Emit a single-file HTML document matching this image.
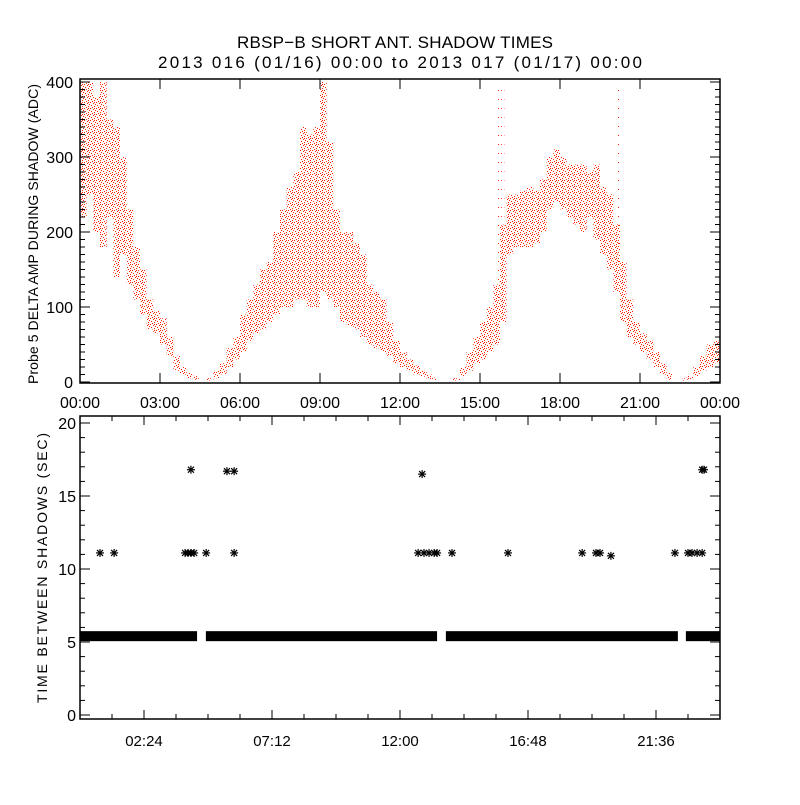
<!DOCTYPE html>
<html><head><meta charset="utf-8"><style>
html,body{margin:0;padding:0;background:#fff}
svg text{font-family:"Liberation Sans",sans-serif;fill:#000}
</style></head><body>
<svg id="chart" width="800" height="800" xmlns="http://www.w3.org/2000/svg">
<defs>
<pattern id="dots" patternUnits="userSpaceOnUse" width="6" height="6">
<rect x="0" y="0" width="1" height="1" fill="#ff2000"/>
<rect x="3" y="1" width="1" height="1" fill="#ff2000"/>
<rect x="1" y="3" width="1" height="1" fill="#ff2000"/>
<rect x="4" y="4" width="1" height="1" fill="#ff2000"/>
<rect x="2" y="5" width="1" height="1" fill="#ff2000"/>
<rect x="5" y="2" width="1" height="1" fill="#ff2000"/>
<rect x="4" y="0" width="1" height="1" fill="#ff2000"/>
</pattern>
<pattern id="sparse" patternUnits="userSpaceOnUse" width="3" height="9">
<rect x="0" y="0" width="1" height="1" fill="#ff2000"/>
</pattern>
</defs>
<rect width="800" height="800" fill="#fff"/>
<text x="237" y="48" font-size="17" textLength="316" lengthAdjust="spacing">RBSP−B SHORT ANT. SHADOW TIMES</text>
<text x="158" y="68" font-size="17" textLength="484" lengthAdjust="spacing">2013 016 (01/16) 00:00 to 2013 017 (01/17) 00:00</text>
<g id="topPlot"></g>
<g id="botPlot"></g>
<text transform="translate(38,384) rotate(-90)" font-size="14" textLength="300" lengthAdjust="spacing">Probe 5 DELTA AMP DURING SHADOW (ADC)</text>
<text transform="translate(47,703) rotate(-90)" font-size="14" textLength="270" lengthAdjust="spacing">TIME BETWEEN SHADOWS (SEC)</text>
</svg>
<script>
// ---- top chart data (hours, ADC) ----
const binT = [0,0.25,0.5,0.75,1.0,1.25,1.5,1.75,2.0,2.25,2.5,2.75,3.0,3.25,3.5,3.75,4.0,4.25,
 4.75,5.0,5.25,5.5,5.75,6.0,6.25,6.5,6.75,7.0,7.25,7.5,7.75,8.0,8.25,8.5,8.75,9.0,9.25,9.5,9.75,10.0,10.25,10.5,10.75,11.0,11.25,11.5,11.75,12.0,12.25,12.5,12.75,13.0,13.2,
 13.9,14.25,14.5,14.75,15.0,15.25,15.5,15.75,16.0,16.25,16.5,16.75,17.0,17.25,17.5,17.75,18.0,18.25,18.5,18.75,19.0,19.25,19.5,19.75,20.0,20.25,20.5,20.75,21.0,21.25,21.5,21.75,22.0,
 22.6,22.75,23.0,23.25,23.5,23.75];
const binLo = [220,250,200,180,220,140,170,130,110,90,70,65,50,35,15,10,5,3,
 2,5,10,20,30,40,55,65,70,80,90,100,100,110,110,100,100,120,110,100,80,75,70,60,50,45,40,35,25,20,15,10,7,4,2,
 2,8,15,25,30,40,50,80,170,180,180,180,185,200,230,240,230,220,210,200,220,190,170,150,120,80,60,50,40,30,20,10,3,
 2,3,8,15,20,25];
const binHi = [400,400,380,400,350,340,300,230,180,150,110,95,85,60,35,20,12,8,
 5,15,25,45,60,90,110,130,150,160,200,230,260,280,340,330,340,400,320,230,200,200,185,170,130,120,110,80,55,40,30,22,15,10,6,
 5,20,40,60,80,100,130,210,250,250,255,260,255,270,300,310,300,290,290,290,280,290,260,250,210,160,110,80,65,55,40,25,12,
 5,8,20,35,50,55];
const binW = [0.25,0.25,0.25,0.25,0.25,0.25,0.25,0.25,0.25,0.25,0.25,0.25,0.25,0.25,0.25,0.25,0.25,0.2,
 0.25,0.25,0.25,0.25,0.25,0.25,0.25,0.25,0.25,0.25,0.25,0.25,0.25,0.25,0.25,0.25,0.25,0.25,0.25,0.25,0.25,0.25,0.25,0.25,0.25,0.25,0.25,0.25,0.25,0.25,0.25,0.25,0.25,0.2,0.15,
 0.35,0.25,0.25,0.25,0.25,0.25,0.25,0.25,0.25,0.25,0.25,0.25,0.25,0.25,0.25,0.25,0.25,0.25,0.25,0.25,0.25,0.25,0.25,0.25,0.25,0.25,0.25,0.25,0.25,0.25,0.25,0.25,0.2,
 0.15,0.25,0.25,0.25,0.25,0.25];
const spikeT = [15.6,15.8,20.1];
const spikeLo = [100,200,150];
const spikeHi = [400,400,400];
const topXTicks = ["00:00","03:00","06:00","09:00","12:00","15:00","18:00","21:00","00:00"];
const topYTicks = [0,100,200,300,400];

// ---- bottom chart data (hours, seconds) ----
const bandStart = [0, 4.72, 13.72, 22.72];
const bandEnd = [4.39, 13.39, 22.42, 24];
const bandVal = [5.4, 5.4, 5.4, 5.4];
const starT = [0.75,1.28,3.94,4.05,4.16,4.28,4.73,5.78,12.68,12.9,13.09,13.28,13.39,13.95,16.05,18.83,19.35,19.5,19.91,22.31,22.8,22.95,23.14,23.33,
 4.16,5.51,5.78,12.83,23.33,23.4];
const starV = [11.1,11.1,11.1,11.1,11.1,11.1,11.1,11.1,11.1,11.1,11.1,11.1,11.1,11.1,11.1,11.1,11.1,11.1,10.9,11.1,11.1,11.1,11.1,11.1,
 16.8,16.7,16.7,16.5,16.8,16.8];
const botXLabels = ["02:24","07:12","12:00","16:48","21:36"];
const botYTicks = [0,5,10,15,20];

const NS = "http://www.w3.org/2000/svg";
function mk(parent, tag, attrs){const e=document.createElementNS(NS,tag);for(const k in attrs)e.setAttribute(k,attrs[k]);parent.appendChild(e);return e;}

// top axes
const L=80,R=720,T1=79,B1=383;
const tx = h => L + (R-L)*h/24;
const ty = v => 382 - 0.75*v;
const topG = document.getElementById('topPlot');
for(let i=0;i<binT.length;i++){
  const r=mk(topG,'rect',{x:tx(binT[i]),y:ty(binHi[i]),width:tx(binT[i]+binW[i])-tx(binT[i]),height:ty(binLo[i])-ty(binHi[i]),fill:'url(#dots)'});
  
  
}
for(let i=0;i<spikeT.length;i++){
  const r=mk(topG,'rect',{x:tx(spikeT[i]),y:ty(spikeHi[i]),width:3,height:ty(spikeLo[i])-ty(spikeHi[i]),fill:'url(#sparse)'});
  
  
}
const f1=mk(topG,'rect',{x:L,y:T1,width:R-L,height:B1-T1,fill:'none',stroke:'#000','stroke-width':1.5});


topXTicks.forEach((lab,i)=>{
  const x=tx(i*3);
  mk(topG,'line',{x1:x,y1:B1,x2:x,y2:B1-10,stroke:'#000'});
  mk(topG,'line',{x1:x,y1:T1,x2:x,y2:T1+10,stroke:'#000'});
  const t=mk(topG,'text',{x:x,y:408,'font-size':16,'text-anchor':'middle'});
  t.textContent=lab;
  
  
});
for(let v=0;v<=400;v+=10){
  const y=ty(v), len=(v%100===0)?10:5;
  mk(topG,'line',{x1:L,y1:y,x2:L+len,y2:y,stroke:'#000'});
  mk(topG,'line',{x1:R,y1:y,x2:R-len,y2:y,stroke:'#000'});
}
topYTicks.forEach(v=>{
  const t=mk(topG,'text',{x:73,y:ty(v)+6,'font-size':16,'text-anchor':'end'});
  t.textContent=v;
  
  
});

// bottom axes
const T2=416,B2=719;
const bx = h => L + (R-L)*h/24;
const by = v => 715 - 14.6*v;
const botG=document.getElementById('botPlot');
for(let i=0;i<bandStart.length;i++){
  const r=mk(botG,'rect',{x:bx(bandStart[i]),y:by(bandVal[i])-5,width:bx(bandEnd[i])-bx(bandStart[i]),height:10,fill:'#000'});
  
  
}
for(let i=0;i<starT.length;i++){
  const g=mk(botG,'g',{transform:`translate(${bx(starT[i])},${by(starV[i])})`,stroke:'#000','stroke-width':1.2});
  
  
  mk(g,'line',{x1:-4,y1:0,x2:4,y2:0});mk(g,'line',{x1:0,y1:-4,x2:0,y2:4});
  mk(g,'line',{x1:-3,y1:-3,x2:3,y2:3});mk(g,'line',{x1:-3,y1:3,x2:3,y2:-3});
}
const f2=mk(botG,'rect',{x:L,y:T2,width:R-L,height:B2-T2,fill:'none',stroke:'#000','stroke-width':1.5});


for(let k=1;k<=19;k++){
  const x=bx(k*1.2); if(x>=R) break;
  const len=(k%4===2)?9:5;
  mk(botG,'line',{x1:x,y1:B2,x2:x,y2:B2-len,stroke:'#000'});
  mk(botG,'line',{x1:x,y1:T2,x2:x,y2:T2+len,stroke:'#000'});
}
botXLabels.forEach((lab,i)=>{
  const t=mk(botG,'text',{x:bx(2.4+4.8*i),y:746,'font-size':15,'text-anchor':'middle'});
  t.textContent=lab;
  
  
});
for(let v=0;v<=20;v++){
  const y=by(v), len=(v%5===0)?10:5;
  mk(botG,'line',{x1:L,y1:y,x2:L+len,y2:y,stroke:'#000'});
  mk(botG,'line',{x1:R,y1:y,x2:R-len,y2:y,stroke:'#000'});
}
botYTicks.forEach(v=>{
  const t=mk(botG,'text',{x:76,y:by(v)+6,'font-size':16,'text-anchor':'end'});
  t.textContent=v;
  
  
});
</script>
</body></html>
